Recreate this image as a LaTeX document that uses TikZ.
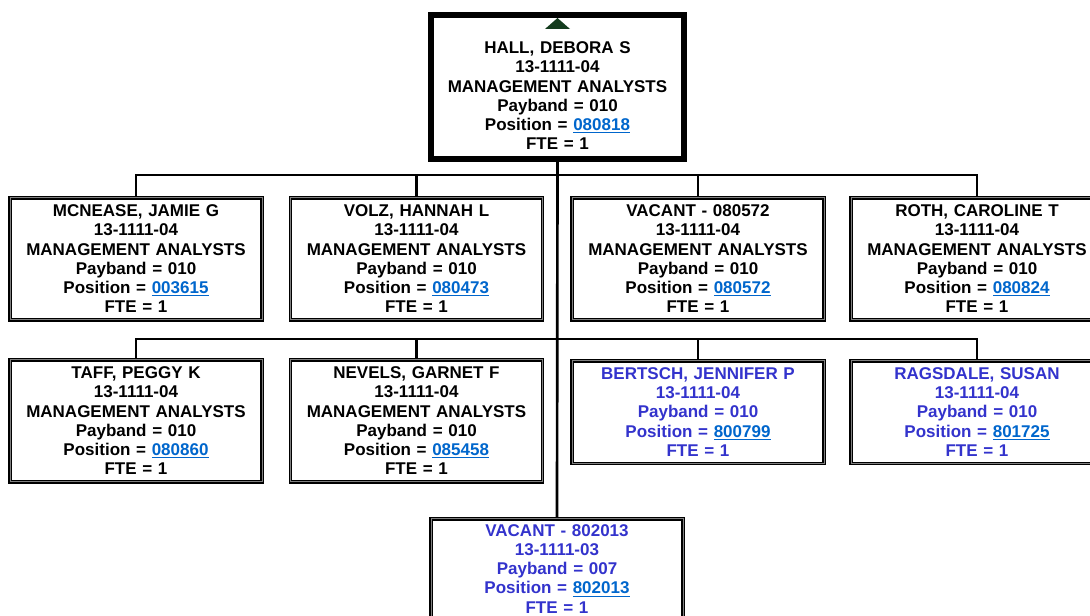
\documentclass[tikz,border=0pt]{standalone}
\usepackage{fontspec}
\setmainfont{Liberation Sans}
\usetikzlibrary{positioning}
\definecolor{vacblue}{RGB}{51,51,204}
\definecolor{linkblue}{RGB}{0,102,204}
\definecolor{markgreen}{RGB}{20,60,30}
\newcommand{\posno}[1]{\textcolor{linkblue}{\underline{#1}}}

\begin{document}
\begin{tikzpicture}[
        x=0.75pt, y=-0.75pt,
        box/.style={draw, line width=1.1pt, double=black!50, double distance=0.5pt,
            minimum width=189pt, text width=185pt,
            align=center, inner sep=0pt,
            font=\bfseries\fontsize{12.75}{14.45}\selectfont},
        fullbox/.style={box, anchor=north, minimum height=91.5pt},
        shortbox/.style={box, anchor=north, minimum height=77pt, text=vacblue},
        headbox/.style={box, anchor=north, line width=4.5pt, double=none,
            minimum width=190pt, minimum height=108pt},
        bus/.style={line width=2pt}
    ]
        \useasboundingbox (0,0) rectangle (1090,616);

        % Head of the unit
        \node[headbox] (hall) at (557.5,12) {\rule{0pt}{22pt}HALL, DEBORA S\\13-1111-04\\MANAGEMENT ANALYSTS\\Payband = 010\\Position = \posno{080818}\\FTE = 1};
        \fill[markgreen] ([shift={(-12.5,17)}]hall.north) -- ([shift={(12.5,17)}]hall.north) -- ([shift={(0,6)}]hall.north) -- cycle;

        % First row
        \node[fullbox] (mcnease) at (136,197) {MCNEASE, JAMIE G\\13-1111-04\\MANAGEMENT ANALYSTS\\Payband = 010\\Position = \posno{003615}\\FTE = 1};
        \node[fullbox] (volz) at (416.5,197) {VOLZ, HANNAH L\\13-1111-04\\MANAGEMENT ANALYSTS\\Payband = 010\\Position = \posno{080473}\\FTE = 1};
        \node[fullbox] (vacant1) at (698,197) {VACANT - 080572\\13-1111-04\\MANAGEMENT ANALYSTS\\Payband = 010\\Position = \posno{080572}\\FTE = 1};
        \node[fullbox] (roth) at (977,197) {ROTH, CAROLINE T\\13-1111-04\\MANAGEMENT ANALYSTS\\Payband = 010\\Position = \posno{080824}\\FTE = 1};

        % Second row
        \node[fullbox] (taff) at (136,359) {TAFF, PEGGY K\\13-1111-04\\MANAGEMENT ANALYSTS\\Payband = 010\\Position = \posno{080860}\\FTE = 1};
        \node[fullbox] (nevels) at (416.5,359) {NEVELS, GARNET F\\13-1111-04\\MANAGEMENT ANALYSTS\\Payband = 010\\Position = \posno{085458}\\FTE = 1};
        \node[shortbox] (bertsch) at (698,360) {BERTSCH, JENNIFER P\\13-1111-04\\Payband = 010\\Position = \posno{800799}\\FTE = 1};
        \node[shortbox] (ragsdale) at (977,360) {RAGSDALE, SUSAN\\13-1111-04\\Payband = 010\\Position = \posno{801725}\\FTE = 1};

        % Bottom
        \node[shortbox, minimum height=75pt] (vacant2) at (557,518) {VACANT - 802013\\13-1111-03\\Payband = 007\\Position = \posno{802013}\\FTE = 1};

        % Lines
        \draw[bus] (hall.south) -- (vacant2.north);
        \draw[bus] (mcnease.north) -- ++(0,-22) -| (roth.north);
        \draw[bus] (volz.north) -- ++(0,-22);
        \draw[bus] (vacant1.north) -- ++(0,-22);
        \draw[bus] (taff.north) -- ++(0,-20) -| (ragsdale.north);
        \draw[bus] (nevels.north) -- ++(0,-20);
        \draw[bus] (bertsch.north) -- ++(0,-21);
    \end{tikzpicture}
\end{document}
